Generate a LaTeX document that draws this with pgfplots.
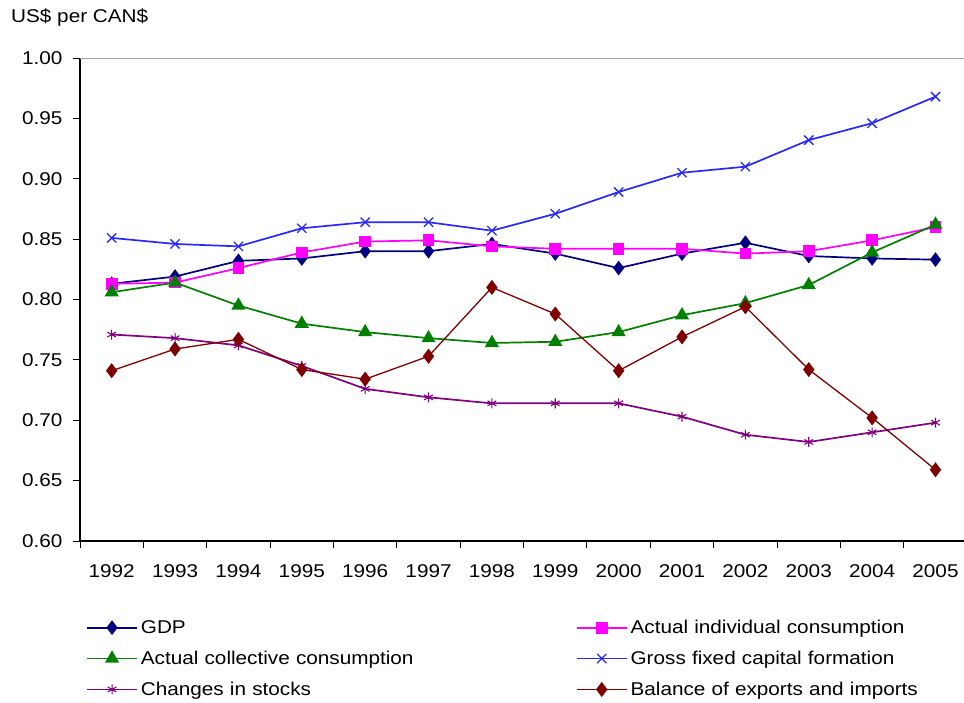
\documentclass[border=0pt]{standalone}
\usepackage{fontspec}
\setmainfont{Liberation Sans}[FakeStretch=1.12]
\usepackage{pgfplots}
\pgfplotsset{compat=1.18}
\usepackage{pgfplotstable}
\definecolor{cgdp}{RGB}{0,0,128}
\definecolor{cind}{RGB}{255,0,255}
\definecolor{ccol}{RGB}{0,128,0}
\definecolor{cgf}{RGB}{40,40,255}
\definecolor{cst}{RGB}{128,0,128}
\definecolor{cbal}{RGB}{128,0,0}
\newcommand\f{\fontsize{18.5}{22}\selectfont}
\pgfplotstableread{
x gdp ind col gfcf stk bal
0 0.813 0.813 0.806 0.851 0.771 0.741
1 0.819 0.814 0.814 0.846 0.768 0.759
2 0.832 0.826 0.795 0.844 0.762 0.767
3 0.834 0.839 0.780 0.859 0.745 0.742
4 0.840 0.848 0.773 0.864 0.726 0.734
5 0.840 0.849 0.768 0.864 0.719 0.753
6 0.846 0.844 0.764 0.857 0.714 0.810
7 0.838 0.842 0.765 0.871 0.714 0.788
8 0.826 0.842 0.773 0.889 0.714 0.741
9 0.838 0.842 0.787 0.905 0.703 0.769
10 0.847 0.838 0.797 0.910 0.688 0.794
11 0.836 0.840 0.812 0.932 0.682 0.742
12 0.834 0.849 0.839 0.946 0.690 0.702
13 0.833 0.860 0.862 0.968 0.698 0.659
}\data
\begin{document}
\begin{tikzpicture}
\useasboundingbox (0,0) rectangle (964pt,702pt);
\node[anchor=west,inner sep=0pt] at (11pt,684pt) {\f US\$ per CAN\$};
\begin{axis}[
  at={(80pt,161pt)}, anchor=south west,
  scale only axis, width=884pt, height=483pt,
  xmin=-0.5, xmax=13.45, ymin=0.6, ymax=1.0,
  axis x line*=bottom, axis y line*=left,
  axis line style={-, line width=1.2pt, black},
  ytick={0.6,0.65,...,1.01},
  yticklabel style={xshift=-7pt, /pgf/number format/.cd, fixed, fixed zerofill, precision=2, assume math mode=true},
  tick label style={font=\f},
  tick align=outside, major tick length=7pt,
  tick style={line width=1pt, black},
  xtick={-0.5,0.5,...,12.6},
  xticklabels={},
  extra x ticks={0,1,...,13},
  extra x tick labels={1992,1993,1994,1995,1996,1997,1998,1999,2000,2001,2002,2003,2004,2005},
  extra x tick style={major tick length=0pt, xticklabel style={yshift=-20pt}},
  legend columns=2,
  legend cell align=left,
  legend style={draw=none, fill=none, font=\f, inner sep=0pt,
    at={(axis description cs:0,0)}, anchor=north west, xshift=6pt, yshift=-76pt,
    nodes={text width=432pt, align=left, inner sep=3pt},
    /tikz/every even column/.append style={column sep=0pt},
    row sep=10pt},
  legend image code/.code={\draw[mark repeat=2,mark phase=2] plot coordinates {(0pt,0pt)(25pt,0pt)(50pt,0pt)};},
]
\draw[gray!70, line width=1.2pt] (rel axis cs:0,1) -- (rel axis cs:1,1);
\addplot[cgdp, line width=1.7pt, mark=diamond*, mark size=6pt, mark options={solid, fill=cgdp}] table[x=x,y=gdp]{\data};
\addlegendentry{GDP}
\addplot[cind, line width=1.7pt, mark=square*, mark size=5pt, mark options={solid, fill=cind}] table[x=x,y=ind]{\data};
\addlegendentry{Actual individual consumption}
\addplot[ccol, line width=1.7pt, mark=triangle*, mark size=6.5pt, mark options={solid, fill=ccol}] table[x=x,y=col]{\data};
\addlegendentry{Actual collective consumption}
\addplot[cgf, line width=1.7pt, mark=x, mark size=6.5pt, mark options={solid, line width=1.3pt}] table[x=x,y=gfcf]{\data};
\addlegendentry{Gross fixed capital formation}
\addplot[cst, line width=1.7pt, mark=asterisk, mark size=5pt, mark options={solid, line width=1.1pt}] table[x=x,y=stk]{\data};
\addlegendentry{Changes in stocks}
\addplot[cbal, line width=1.3pt, mark=diamond*, mark size=6.5pt, mark options={solid, fill=cbal}] table[x=x,y=bal]{\data};
\addlegendentry{Balance of exports and imports}
\end{axis}
\end{tikzpicture}
\end{document}
